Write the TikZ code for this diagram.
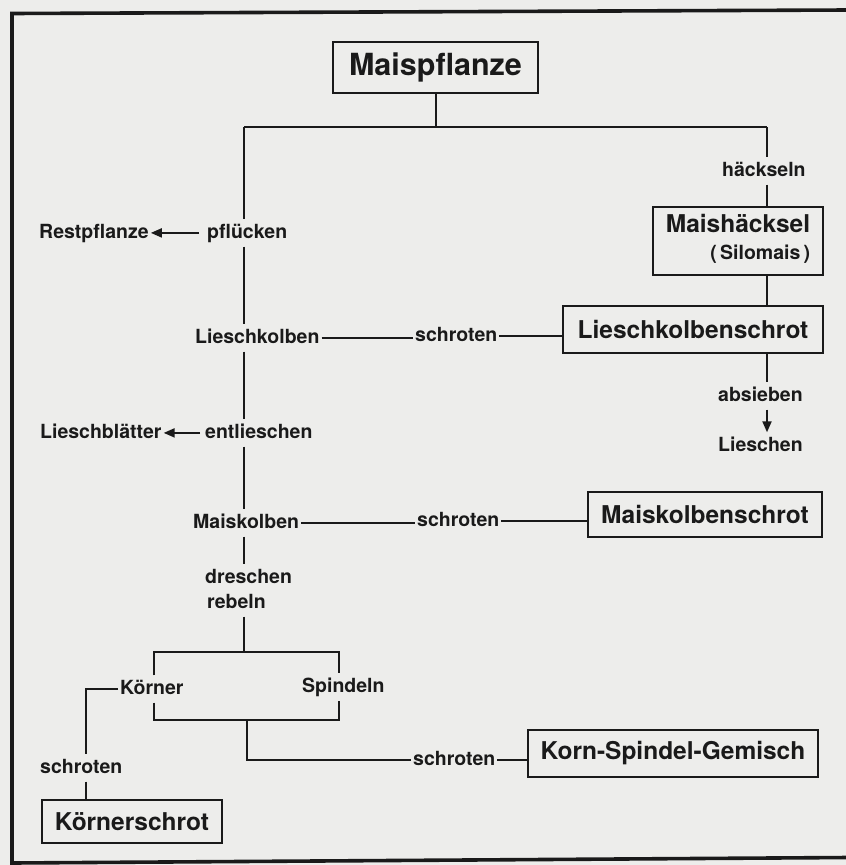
\documentclass[tikz,border=0pt]{standalone}
\usepackage{fontspec}
\setmainfont{TeX Gyre Heros}
\usetikzlibrary{arrows.meta}
\definecolor{paper}{RGB}{237,237,235}
\definecolor{ink}{RGB}{26,26,26}
\begin{document}
\begin{tikzpicture}[x=1pt,y=-1pt,
  every node/.style={text=ink},
  box/.style={draw=ink, line width=2.3pt, inner sep=0pt,
    font=\bfseries\fontsize{24.5}{27}\selectfont},
  lbl/.style={anchor=base west, inner xsep=2pt, inner ysep=4pt,
    text height=14.5pt, text depth=4.3pt,
    font=\bfseries\fontsize{19.5}{22}\selectfont},
  link/.style={draw=ink, line width=2pt},
  arr/.style={link, -{Triangle[length=11pt,width=9pt]}},
  frame/.style={draw=ink, line width=3.6pt}]

% paper and page frame
\fill[paper] (0,0) rectangle (846,865);
\useasboundingbox (0,0) rectangle (846,865);
\draw[frame] (12,868) -- (12,13.5) -- (848,10);
\draw[frame] (12,863) -- (848,857.5);

% products (boxes)
\node[box, minimum width=205pt, minimum height=51pt,
      font=\bfseries\fontsize{30.5}{33}\selectfont] (mp) at (435.5,67.5) {Maispflanze};
\node[box, minimum width=170pt, minimum height=68pt] (mh) at (738,241)
  {\begin{tabular}{@{}r@{}}Maishäcksel\\\fontsize{19.5}{22}\selectfont(\,Silomais\,)\end{tabular}};
\node[box, minimum width=260pt, minimum height=47pt] (lks) at (693,329.5) {Lieschkolbenschrot};
\node[box, minimum width=234pt, minimum height=45pt] (mks) at (705,514.5) {Maiskolbenschrot};
\node[box, minimum width=290pt, minimum height=47pt] (ksg) at (673,753.5) {Korn-Spindel-Gemisch};
\node[box, minimum width=180pt, minimum height=43pt] (ks) at (132,821.5) {Körnerschrot};

% steps and by-products (labels)
\node[lbl] (rest)  at (37,238)  {Restpflanze};
\node[lbl] (pflu)  at (205,238) {pflücken};
\node[lbl] (hack)  at (720,176) {häckseln};
\node[lbl] (lk)    at (193,343) {Lieschkolben};
\node[lbl] (s1)    at (413,341) {schroten};
\node[lbl] (abs)   at (716,401) {absieben};
\node[lbl] (lies)  at (716,451) {Lieschen};
\node[lbl] (blatt) at (38,438)  {Lieschblätter};
\node[lbl] (entl)  at (203,438) {entlieschen};
\node[lbl] (mk)    at (191,528) {Maiskolben};
\node[lbl] (s2)    at (415,526) {schroten};
\node[lbl] (dre)   at (203,583) {dreschen};
\node[lbl] (reb)   at (205,608) {rebeln};
\node[lbl] (koe)   at (118,694) {Körner};
\node[lbl] (spi)   at (300,692) {Spindeln};
\node[lbl] (s3)    at (38,773)  {schroten};
\node[lbl] (s4)    at (411,765) {schroten};

% junction points
\coordinate (jL) at (244,127);
\coordinate (jR) at (767,127);
\coordinate (bL) at (154,652);
\coordinate (bR) at (339,652);
\coordinate (cL) at (154,720);
\coordinate (cR) at (339,720);
\coordinate (cM) at (247,720);
\coordinate (kx) at (86,689);

% top split
\draw[link] (mp.south) -- (mp.south |- jL);
\draw[link] (jL) -- (jR);

% right branch: chopping
\draw[link] (jR) -- (jR |- hack.north);
\draw[link] (jR |- hack.south) -- (jR |- mh.north);
\draw[link] (jR |- mh.south) -- (jR |- lks.north);
\draw[link] (jR |- lks.south) -- (jR |- abs.north);
\draw[arr] (jR |- abs.south) -- (jR |- lies.north);

% left branch: picking, husking, threshing
\draw[link] (jL) -- (jL |- pflu.north);
\draw[arr, shorten <=6pt] (pflu.west) -- (rest.east);
\draw[link] (jL |- pflu.south) -- (jL |- lk.north);
\draw[link] (lk.east) -- (lk.east -| s1.west);
\draw[link] (s1.east) -- (s1.east -| lks.west);
\draw[link] (jL |- lk.south) -- (jL |- entl.north);
\draw[arr, shorten <=3pt] (entl.west) -- (blatt.east);
\draw[link] (jL |- entl.south) -- (jL |- mk.north);
\draw[link] (mk.east) -- (mk.east -| s2.west);
\draw[link] (s2.east) -- (s2.east -| mks.west);
\draw[link] (jL |- mk.south) -- (jL |- dre.north);
\draw[link] (jL |- reb.south) -- (jL |- bL);

% grains and cobs
\draw[link] (bL |- koe.north) -- (bL) -- (bR) -- (bR |- spi.north);
\draw[link] (bL |- koe.south) -- (cL) -- (cR) -- (cR |- spi.south);
\draw[link] (cM) -- (cM |- s4.west) -- (s4.west);
\draw[link] (s4.east) -- (s4.east -| ksg.west);
\draw[link] (koe.west) -- (koe.west -| kx) -- (kx |- s3.north);
\draw[link] (kx |- s3.south) -- (kx |- ks.north);
\end{tikzpicture}
\end{document}
